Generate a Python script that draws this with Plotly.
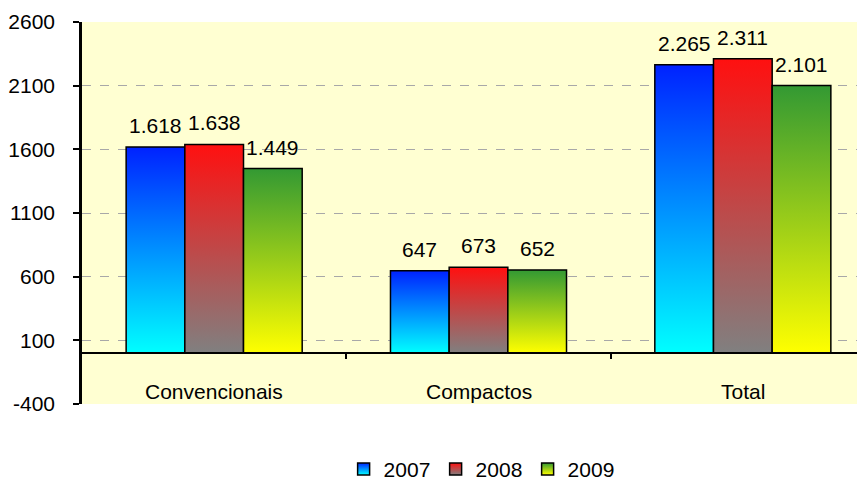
import plotly.graph_objects as go

categories = ["Convencionais", "Compactos", "Total"]
years = ["2007", "2008", "2009"]
values_2007 = [1618, 647, 2265]
values_2008 = [1638, 673, 2311]
values_2009 = [1449, 652, 2101]
y_ticks = [-400, 100, 600, 1100, 1600, 2100, 2600]

series = [values_2007, values_2008, values_2009]
grad_colors = [
    ("#00FFFF", "#0022FF"),  # bottom, top
    ("#808080", "#FF1010"),
    ("#FFFF00", "#339933"),
]

FONT = "Liberation Sans, Arial, sans-serif"
FS = 21
bar_w = 0.222
group_offsets = [-bar_w, 0.0, bar_w]

fig = go.Figure()
annotations = []
for si, (yr, vals) in enumerate(zip(years, series)):
    bot, top = grad_colors[si]
    for ci, v in enumerate(vals):
        c = ci + group_offsets[si]
        x0, x1 = c - bar_w / 2, c + bar_w / 2
        fig.add_trace(go.Scatter(
            x=[x0, x1, x1, x0, x0], y=[0, 0, v, v, 0],
            mode="lines", fill="toself",
            fillgradient=dict(type="vertical", colorscale=[[0, bot], [1, top]]),
            line=dict(color="black", width=1.5),
            name=yr, legendgroup=yr, showlegend=False,
            hoverinfo="skip",
        ))
        annotations.append(dict(
            x=c, y=v, xref="x", yref="y", text=f"{v:,}".replace(",", "."),
            showarrow=False, yanchor="bottom", yshift=8,
            font=dict(family=FONT, size=FS, color="black"),
        ))
    # legend entry
    fig.add_trace(go.Scatter(
        x=[None], y=[None], mode="markers", name=yr, legendgroup=yr,
        marker=dict(symbol="square", size=12, color=top,
                    gradient=dict(type="vertical", color=bot),
                    line=dict(color="black", width=1.5)),
        hoverinfo="skip",
    ))

for ci, cat in enumerate(categories):
    annotations.append(dict(
        x=ci, y=0, xref="x", yref="y", text=cat, showarrow=False,
        yanchor="top", yshift=-25,
        font=dict(family=FONT, size=FS, color="black"),
    ))

fig.update_layout(
    width=865, height=483,
    margin=dict(l=72, r=0, t=14, b=87),
    paper_bgcolor="white",
    plot_bgcolor="#FFFFD2",
    font=dict(family=FONT, size=FS, color="black"),
    annotations=annotations,
    showlegend=True,
    legend=dict(orientation="h", xref="container", yref="container",
                x=0.388, xanchor="left", y=0.045, yanchor="middle",
                font=dict(family=FONT, size=FS, color="black"),
                itemwidth=30, tracegroupgap=0, entrywidth=47),
    xaxis=dict(
        range=[-0.5, -0.5 + 793 / 265],
        anchor="free", position=400 / 3000,
        showline=True, linecolor="black", linewidth=2,
        tickmode="array", tickvals=[0.5, 1.5], ticktext=["", ""],
        ticks="outside", ticklen=5, tickcolor="black", tickwidth=1.5,
        showgrid=False, zeroline=False, fixedrange=True,
    ),
    yaxis=dict(
        range=[-400, 2600],
        tickmode="array", tickvals=y_ticks,
        ticktext=[str(t) for t in y_ticks],
        ticks="outside", ticklen=6, tickcolor="black", tickwidth=2,
        ticklabelstandoff=14,
        showline=True, linecolor="black", linewidth=2.5,
        showgrid=True, gridcolor="#A8A8A8", griddash="dash", gridwidth=1.2,
        zeroline=False,
        tickfont=dict(family=FONT, size=FS, color="black"),
    ),
)

fig.write_html("out.html")
